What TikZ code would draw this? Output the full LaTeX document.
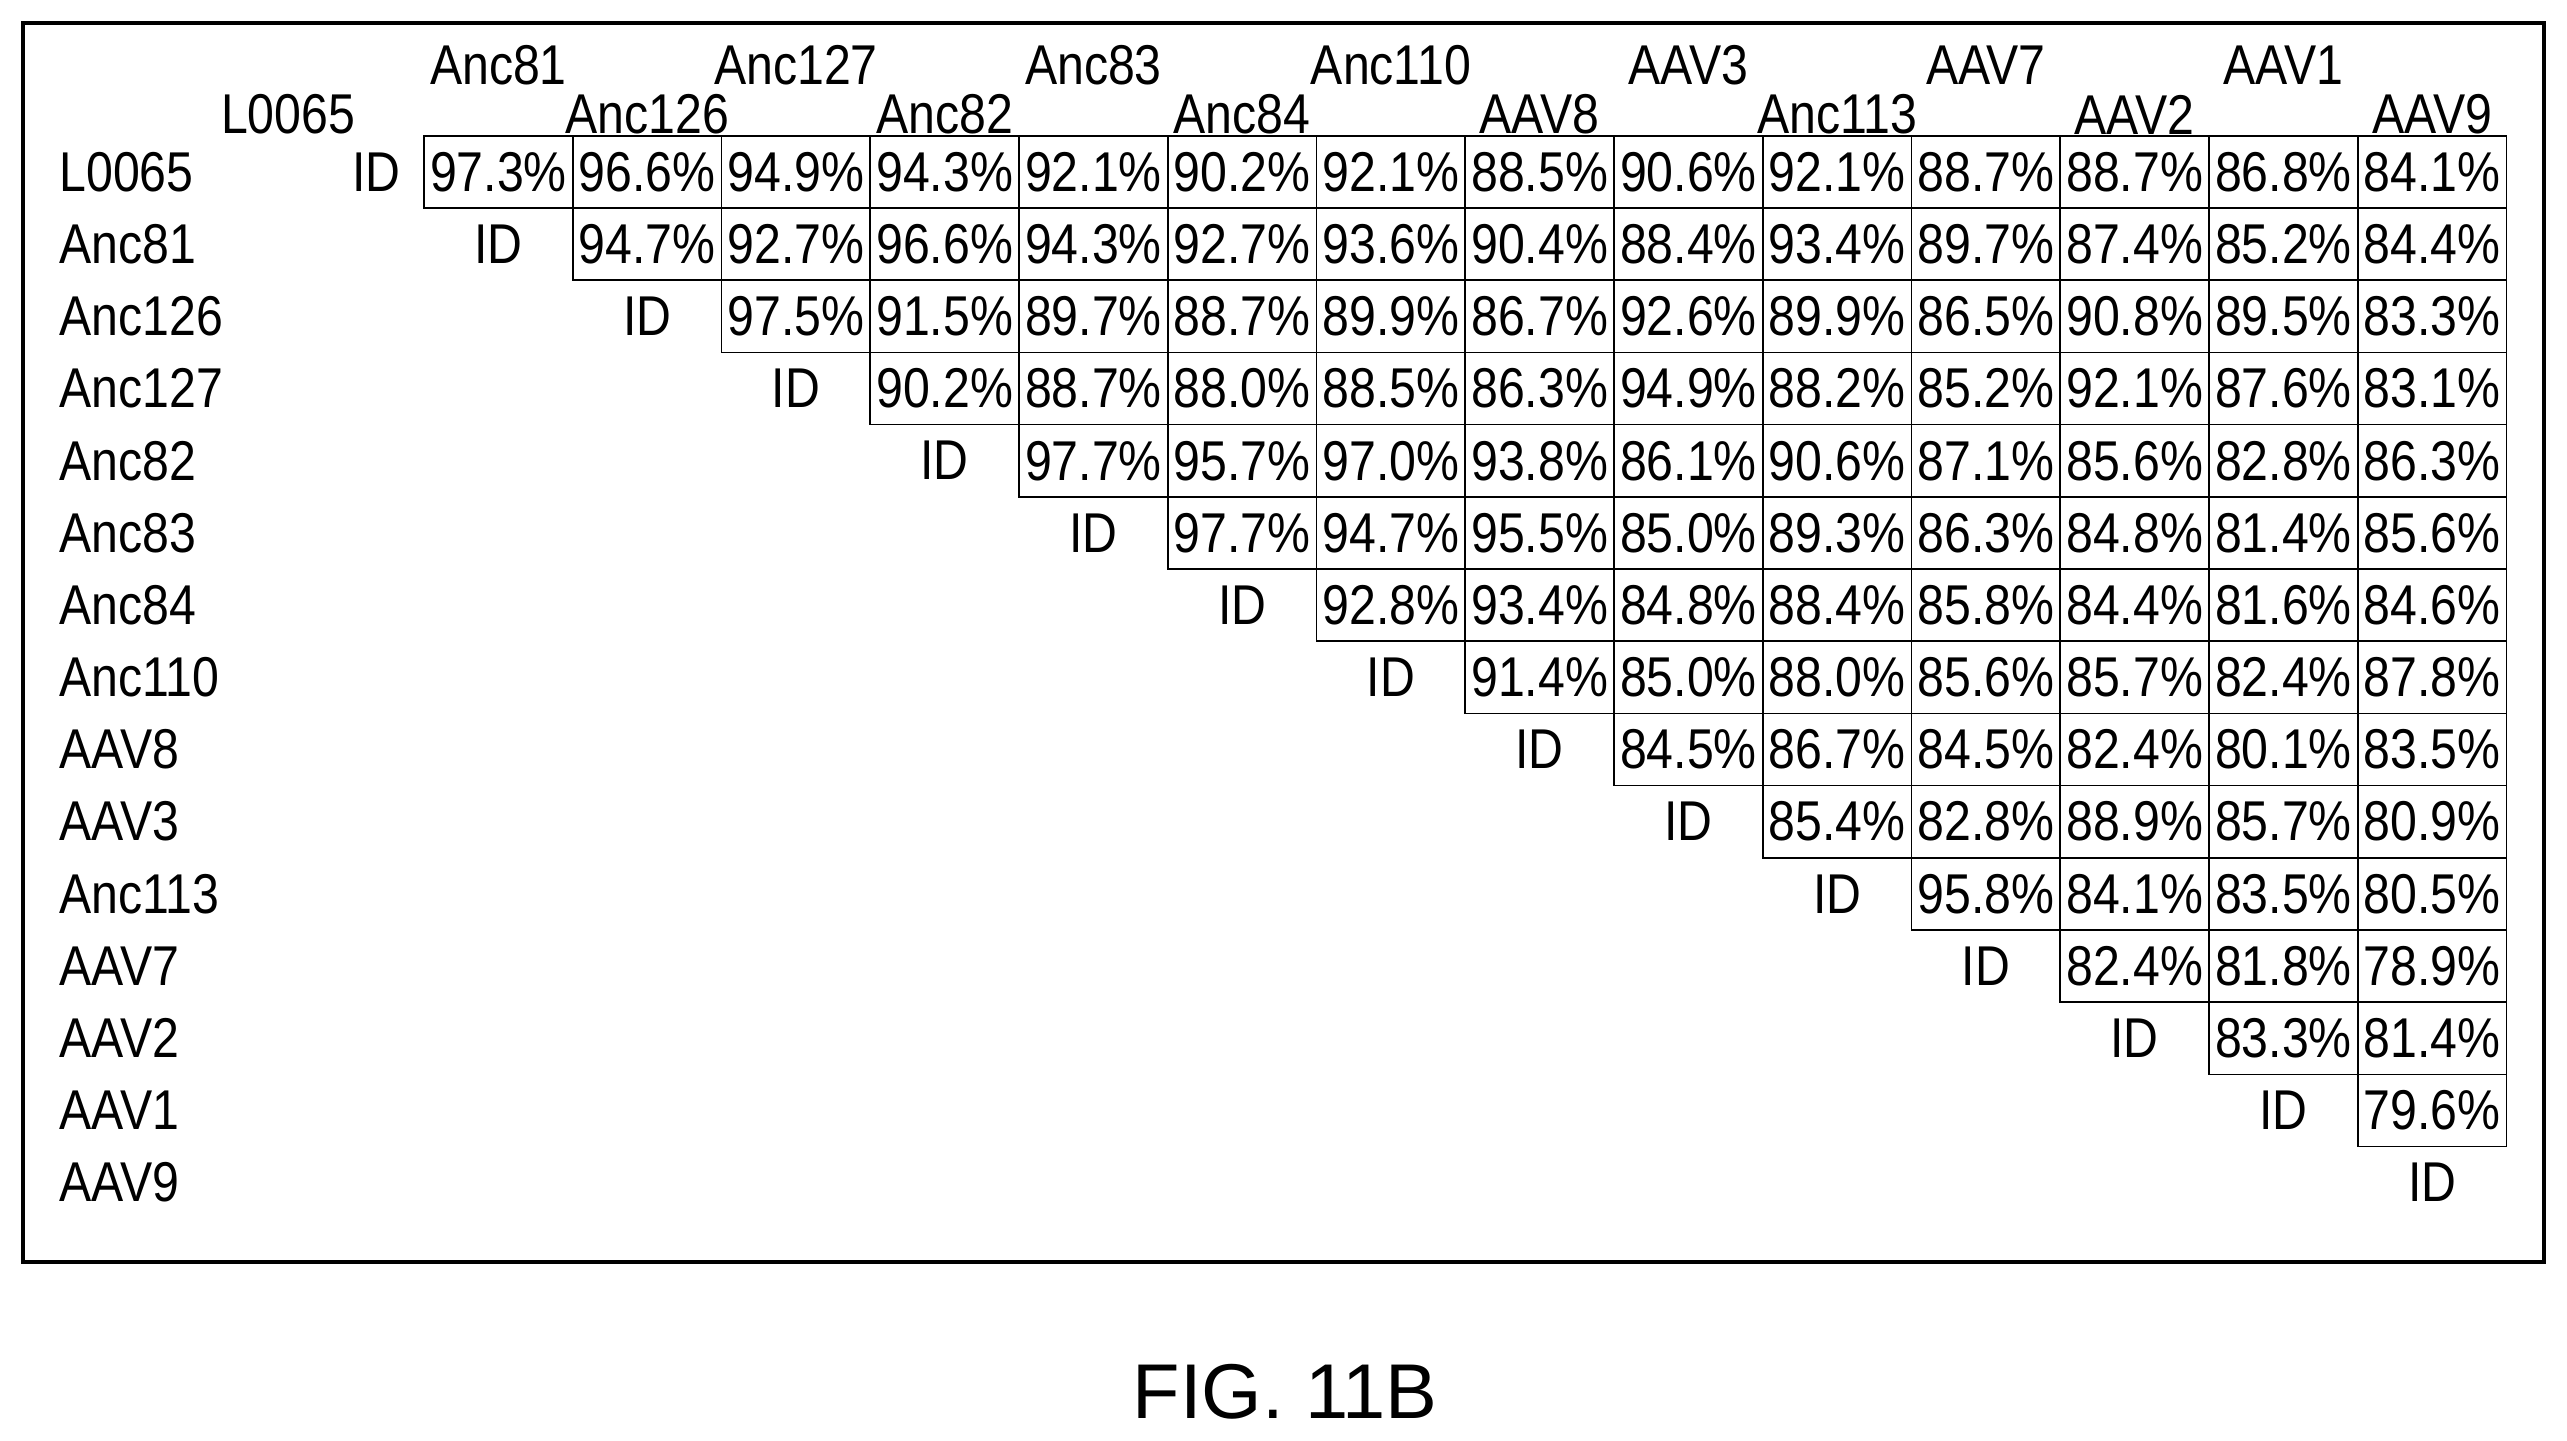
\documentclass[tikz,border=0pt]{standalone}
\usepackage{fontspec}
\setmainfont{Liberation Sans}[FakeStretch=0.86]
\usetikzlibrary{positioning}

\tikzset{
  cell/.style={draw, line width=0.6pt, minimum width=1.817cm, minimum height=0.882cm, inner sep=0pt, font=\fontsize{19.5}{19.5}\selectfont},
  lbl/.style={inner sep=0pt, font=\fontsize{19.5}{19.5}\selectfont}
}

\begin{document}
\begin{tikzpicture}[x=0.02cm, y=-0.02cm]
  \useasboundingbox (0,0) rectangle (1568,880);
  \draw[line width=1.3pt] (14,14) rectangle (1554,771);

  % row labels and diagonal
  \foreach \n [count=\i from 0] in {L0065,Anc81,Anc126,Anc127,Anc82,Anc83,Anc84,Anc110,AAV8,AAV3,Anc113,AAV7,AAV2,AAV1,AAV9} {
    \node[lbl, anchor=west] (r\i) at (36,{105+44.1*\i}) {\n};
    \ifnum\i=0
      \node[lbl] (id\i) at (230,105) {ID};
    \else
      \node[lbl] (id\i) at ({259+90.86*(\i-0.5)},{105+44.1*\i}) {ID};
    \fi
  }

  % column headings
  \foreach \n/\j in {Anc81/1,Anc127/3,Anc83/5,Anc110/7,AAV3/9,AAV7/11,AAV1/13}
    \node[lbl] (h\j) at ({259+90.86*(\j-0.5)},40) {\n};
  \node[lbl] (h0) at (176,70) {L0065};
  \foreach \n/\j in {Anc126/2,Anc82/4,Anc84/6,AAV8/8,Anc113/10,AAV2/12,AAV9/14}
    \node[lbl] (h\j) at ({259+90.86*(\j-0.5)},70) {\n};

  % identity values
  \foreach \vals [count=\i from 0] in {
      {97.3,96.6,94.9,94.3,92.1,90.2,92.1,88.5,90.6,92.1,88.7,88.7,86.8,84.1},
      {94.7,92.7,96.6,94.3,92.7,93.6,90.4,88.4,93.4,89.7,87.4,85.2,84.4},
      {97.5,91.5,89.7,88.7,89.9,86.7,92.6,89.9,86.5,90.8,89.5,83.3},
      {90.2,88.7,88.0,88.5,86.3,94.9,88.2,85.2,92.1,87.6,83.1},
      {97.7,95.7,97.0,93.8,86.1,90.6,87.1,85.6,82.8,86.3},
      {97.7,94.7,95.5,85.0,89.3,86.3,84.8,81.4,85.6},
      {92.8,93.4,84.8,88.4,85.8,84.4,81.6,84.6},
      {91.4,85.0,88.0,85.6,85.7,82.4,87.8},
      {84.5,86.7,84.5,82.4,80.1,83.5},
      {85.4,82.8,88.9,85.7,80.9},
      {95.8,84.1,83.5,80.5},
      {82.4,81.8,78.9},
      {83.3,81.4},
      {79.6}} {
    \foreach \v [count=\k] in \vals {
      \pgfmathtruncatemacro\j{\i+\k}
      \node[cell] (c-\i-\j) at ({259+90.86*(\j-0.5)},{105+44.1*\i}) {\v\%};
    }
  }

  \node[font=\fontsize{27}{27}\selectfont\addfontfeature{FakeStretch=1.0}] (fig) at (785,850) {FIG. 11B};
\end{tikzpicture}
\end{document}
